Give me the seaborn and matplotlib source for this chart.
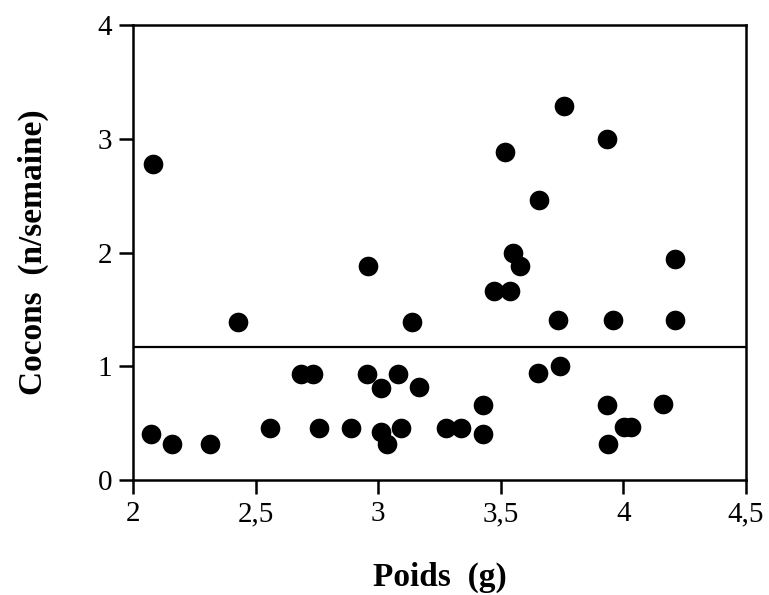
import matplotlib
matplotlib.use("Agg")
import matplotlib.pyplot as plt
import seaborn as sns
import pandas as pd

# Poids (g) and cocons per week
poids = [2.074, 2.16, 2.312, 2.427, 2.559, 2.686, 2.736, 2.759, 2.890, 2.956,
         2.959, 3.011, 3.01, 3.035, 3.080, 3.092, 3.137, 3.168, 3.275, 3.339,
         3.427, 3.427, 3.473, 3.537, 3.519, 3.548, 3.577, 3.652, 3.657, 3.732,
         3.741, 3.757, 3.933, 3.935, 3.937, 3.959, 4.001, 4.03, 4.16, 4.209,
         4.209, 2.08]
cocons = [0.41, 0.32, 0.32, 1.39, 0.46, 0.93, 0.93, 0.46, 0.46, 0.93,
          1.88, 0.81, 0.42, 0.32, 0.93, 0.46, 1.39, 0.82, 0.46, 0.46,
          0.66, 0.41, 1.66, 1.66, 2.88, 2.0, 1.88, 0.94, 2.46, 1.41,
          1.0, 3.29, 3.0, 0.66, 0.32, 1.41, 0.47, 0.47, 0.67, 1.41,
          1.94, 2.78]
mean_level = 1.17

x_ticks = [2, 2.5, 3, 3.5, 4, 4.5]
x_tick_labels = ["2", "2,5", "3", "3,5", "4", "4,5"]
y_ticks = [0, 1, 2, 3, 4]
y_tick_labels = ["0", "1", "2", "3", "4"]

df = pd.DataFrame({"poids": poids, "cocons": cocons})

sns.set_theme(style="ticks")
plt.rcParams["font.family"] = ["Liberation Serif", "DejaVu Serif"]

fig = plt.figure(figsize=(7.69, 5.95), dpi=100)
ax = fig.add_axes([0.173, 0.193, 0.797, 0.765])

sns.scatterplot(data=df, x="poids", y="cocons", color="black", s=200,
                edgecolor="black", linewidth=0, ax=ax)
ax.axhline(mean_level, color="black", linewidth=1.6)

ax.set_xlim(2, 4.5)
ax.set_ylim(0, 4)
ax.set_xticks(x_ticks)
ax.set_xticklabels(x_tick_labels, fontsize=21)
ax.set_yticks(y_ticks)
ax.set_yticklabels(y_tick_labels, fontsize=21)
ax.tick_params(direction="out", length=10, width=1.8, colors="black", pad=5)

for spine in ax.spines.values():
    spine.set_linewidth(1.8)
    spine.set_color("black")

ax.set_xlabel("Poids  (g)", fontsize=24, fontweight="bold", va="center", color="black")
ax.set_ylabel("Cocons  (n/semaine)", fontsize=24, fontweight="bold", va="center", color="black")
ax.xaxis.set_label_coords(0.5, -0.213)
ax.yaxis.set_label_coords(-0.163, 0.5)

fig.savefig("out.png", dpi=100, facecolor="white")
plt.close(fig)
